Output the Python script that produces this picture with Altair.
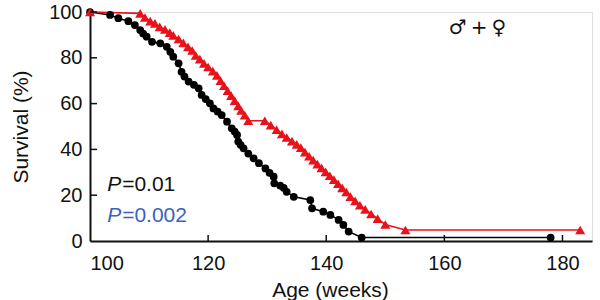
import altair as alt
import pandas as pd

# Kaplan-Meier survival estimates (age in weeks, survival in %)
ctrl_age = [100, 103.4, 104.8, 106.5, 107.6, 108.5, 109.0, 109.6, 110.5, 111.9, 113.0,
            113.6, 114.1, 115.0, 115.5, 116.0, 116.7, 117.6, 118.4, 118.9, 119.6, 120.3,
            120.9, 121.6, 122.3, 123.2, 124.0, 124.5, 124.9, 125.1, 125.5, 126.0, 126.8,
            127.7, 128.6, 129.7, 130.4, 131.1, 131.2, 132.2, 132.8, 133.3, 134.5, 137.3,
            137.6, 139.5, 140.7, 142.1, 142.9, 143.8, 146, 178]
ctrl_surv = [100, 98.7, 97.3, 96.0, 94.3, 92.1, 90.6, 89.2, 87.0, 86.3, 84.8,
             82.6, 80.5, 77.6, 73.9, 71.8, 69.6, 68.2, 66.7, 63.8, 62.0, 60.1,
             57.9, 56.5, 55.0, 52.1, 49.2, 47.8, 46.3, 43.4, 42.0, 40.5, 38.2,
             36.1, 34.0, 31.7, 29.8, 28.1, 25.2, 24.2, 23.2, 21.5, 19.3, 17.9,
             14.3, 12.8, 11.4, 9.2, 7.0, 4.1, 1.5, 1.5]

trt_age = [100, 108.5, 109.3, 110.2, 111.0, 111.8, 112.7, 113.5, 114.1, 115.0, 115.8,
           116.6, 117.3, 117.9, 118.6, 119.3, 120.0, 120.8, 121.5, 122.1, 122.7, 123.3,
           123.9, 124.5, 125.1, 125.6, 126.2, 126.8, 129.6, 130.6, 131.6, 132.5, 133.3,
           134.2, 135.0, 135.7, 136.4, 137.1, 137.8, 138.5, 139.2, 139.9, 140.6, 141.3,
           142.0, 142.7, 143.4, 144.1, 144.9, 145.7, 146.6, 147.6, 148.7, 150.0, 153.4, 183]
trt_surv = [100, 99.4, 97.6, 96.0, 95.0, 93.5, 92.4, 91.0, 89.8, 88.2, 86.5,
            84.8, 83.2, 81.0, 79.4, 77.6, 76.0, 74.2, 72.3, 70.0, 67.8, 65.6,
            63.5, 61.3, 59.0, 57.0, 55.0, 52.5, 52.5, 50.6, 48.6, 46.8, 45.2,
            43.6, 42.2, 40.8, 38.8, 37.0, 35.3, 33.6, 31.9, 30.2, 28.5, 26.8,
            25.0, 23.2, 21.4, 19.4, 17.5, 15.6, 13.8, 11.8, 9.8, 7.2, 4.8, 4.8]

x_ticks = [120, 140, 160, 180]
y_ticks = [20, 40, 60, 80, 100]

FONT = "Liberation Sans"
RED = "#e8121b"
BLUE = "#3a62c0"

df = pd.concat([
    pd.DataFrame({"age": ctrl_age, "surv": ctrl_surv, "group": "control"}),
    pd.DataFrame({"age": trt_age, "surv": trt_surv, "group": "treated"}),
])
df["i"] = range(len(df))

x_scale = alt.Scale(domain=[100, 185], nice=False, zero=False)
y_scale = alt.Scale(domain=[0, 100], nice=False)

x_enc = alt.X("age:Q", scale=x_scale,
              axis=alt.Axis(title="Age (weeks)", values=[100, 120, 140, 160, 180],
                            ticks=False, grid=False, domainColor="#111", domainWidth=2,
                            labelFontSize=20, labelColor="#111", labelPadding=12,
                            titleFontSize=21, titleFontWeight="normal", titleColor="#111",
                            titlePadding=6, titleX=240, titleAnchor="start", titleAlign="center"))
y_enc = alt.Y("surv:Q", scale=y_scale,
              axis=alt.Axis(title="Survival (%)", values=[0, 20, 40, 60, 80, 100],
                            ticks=False, grid=False, domainColor="#111", domainWidth=2,
                            labelFontSize=20, labelColor="#111", labelPadding=8,
                            titleFontSize=21, titleFontWeight="normal", titleColor="#111",
                            titlePadding=17))

color = alt.Color("group:N", scale=alt.Scale(domain=["control", "treated"],
                                             range=["#000000", RED]), legend=None)

lines = alt.Chart(df).mark_line(strokeWidth=1.6).encode(
    x=x_enc, y=y_enc, color=color, detail="group:N", order="i:Q")

ctrl_pts = alt.Chart(df[df.group == "control"]).mark_point(
    filled=True, size=60, opacity=1, shape="circle", color="#000000").encode(x="age:Q", y="surv:Q")
trt_pts = alt.Chart(df[df.group == "treated"]).mark_point(
    filled=True, size=100, opacity=1, shape="triangle-up", color=RED).encode(x="age:Q", y="surv:Q")

# inward-pointing tick marks
xt = alt.Chart(pd.DataFrame({"t": x_ticks})).mark_rule(color="#111", strokeWidth=1.5).encode(
    x="t:Q", y=alt.value(229), y2=alt.value(223))
yt = alt.Chart(pd.DataFrame({"t": y_ticks})).mark_rule(color="#111", strokeWidth=1.5).encode(
    y="t:Q", x=alt.value(0), x2=alt.value(7))

# annotations
sex = alt.Chart(pd.DataFrame({"age": [165.6], "surv": [93], "txt": ["♂\u2009+\u2009♀"]})).mark_text(
    font="DejaVu Sans", fontSize=20, color="#111", baseline="middle", align="center").encode(
    x="age:Q", y="surv:Q", text="txt:N")

p_df = pd.DataFrame({"age": [102.9, 102.9], "surv": [24.5, 10.9],
                     "val": ["=0.01", "=0.002"], "col": ["#111111", BLUE], "p": ["P", "P"]})
p_italic = alt.Chart(p_df).mark_text(
    font=FONT, fontSize=21, fontStyle="italic", align="left", baseline="middle").encode(
    x="age:Q", y="surv:Q", text="p:N", color=alt.Color("col:N", scale=None))
p_val = alt.Chart(p_df).mark_text(
    font=FONT, fontSize=21, align="left", baseline="middle", dx=15).encode(
    x="age:Q", y="surv:Q", text="val:N", color=alt.Color("col:N", scale=None))

chart = alt.layer(lines, ctrl_pts, trt_pts, xt, yt, sex, p_italic, p_val).properties(
    width=502, height=229,
    autosize=alt.AutoSizeParams(type="none"),
    padding={"left": 90, "top": 12, "right": 8, "bottom": 59},
).configure_view(stroke=None).configure(font=FONT)

chart.save("out.html", embed_options={"renderer": "svg", "actions": False})
